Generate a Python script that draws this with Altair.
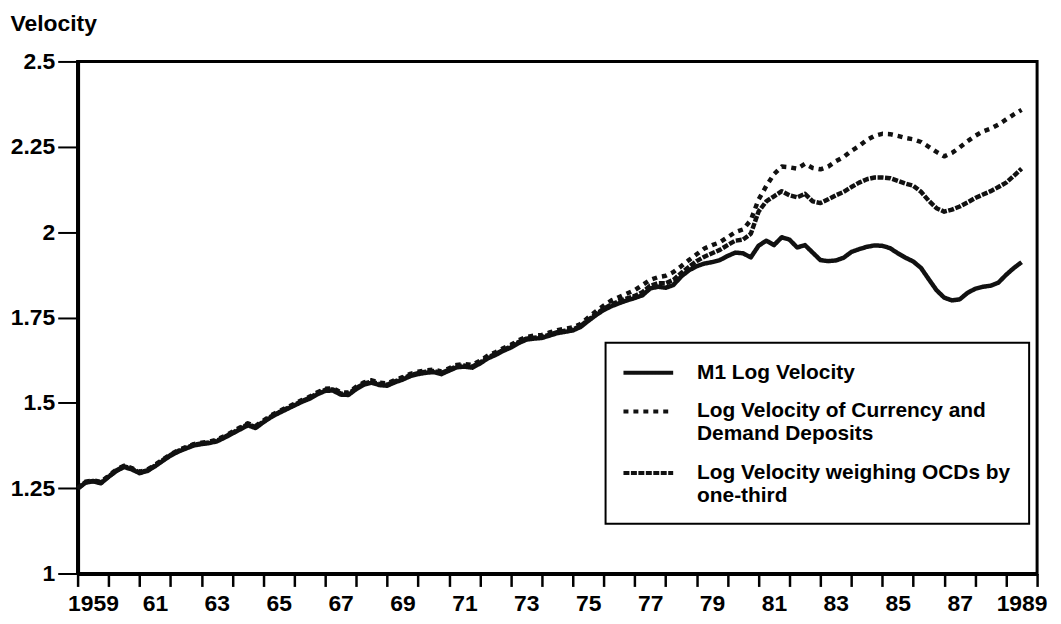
import altair as alt
import pandas as pd

# Quarterly observations, 1959Q1 .. 1989Q3
first_year = 1959
per_year = 4

m1_log_velocity = [
    1.248, 1.266, 1.270, 1.264,
    1.283, 1.300, 1.312, 1.305,
    1.294, 1.300, 1.314, 1.330,
    1.345, 1.357, 1.366, 1.375,
    1.379, 1.382, 1.387, 1.398,
    1.410, 1.422, 1.434, 1.426,
    1.443, 1.458, 1.470, 1.481,
    1.492, 1.503, 1.512, 1.525,
    1.535, 1.536, 1.524, 1.523,
    1.540, 1.553, 1.559, 1.552,
    1.550, 1.560, 1.568, 1.578,
    1.584, 1.588, 1.590, 1.584,
    1.594, 1.604, 1.606, 1.603,
    1.615, 1.630, 1.640, 1.652,
    1.662, 1.675, 1.685, 1.688,
    1.690, 1.697, 1.704, 1.708,
    1.712, 1.722, 1.740, 1.757,
    1.772, 1.783, 1.792, 1.800,
    1.807, 1.815, 1.835, 1.840,
    1.837, 1.845, 1.870, 1.888,
    1.900, 1.908, 1.912, 1.918,
    1.930, 1.940, 1.938, 1.926,
    1.960, 1.975, 1.962, 1.985,
    1.978, 1.955, 1.962, 1.940,
    1.918, 1.915, 1.917, 1.925,
    1.942, 1.950, 1.957, 1.961,
    1.960, 1.953, 1.938, 1.925,
    1.914, 1.895, 1.862, 1.830,
    1.808, 1.800, 1.803, 1.822,
    1.834, 1.840, 1.843, 1.852,
    1.875, 1.895, 1.912,
]

currency_dd_velocity = [
    1.250, 1.269, 1.273, 1.268,
    1.286, 1.304, 1.316, 1.309,
    1.298, 1.304, 1.318, 1.334,
    1.349, 1.361, 1.370, 1.379,
    1.383, 1.386, 1.392, 1.403,
    1.415, 1.428, 1.440, 1.432,
    1.448, 1.463, 1.475, 1.486,
    1.497, 1.508, 1.518, 1.531,
    1.541, 1.543, 1.531, 1.530,
    1.547, 1.560, 1.566, 1.559,
    1.557, 1.567, 1.575, 1.585,
    1.591, 1.595, 1.597, 1.592,
    1.601, 1.611, 1.613, 1.611,
    1.623, 1.638, 1.648, 1.660,
    1.670, 1.683, 1.693, 1.697,
    1.699, 1.706, 1.713, 1.717,
    1.721, 1.731, 1.750, 1.768,
    1.785, 1.800, 1.810, 1.820,
    1.830, 1.845, 1.860, 1.868,
    1.872, 1.883, 1.900, 1.918,
    1.935, 1.952, 1.962, 1.970,
    1.985, 2.000, 2.008, 2.035,
    2.095, 2.135, 2.170, 2.192,
    2.190, 2.186, 2.200, 2.188,
    2.184, 2.192, 2.208, 2.220,
    2.238, 2.252, 2.270, 2.282,
    2.288, 2.287, 2.282, 2.276,
    2.272, 2.264, 2.250, 2.235,
    2.222, 2.232, 2.248, 2.266,
    2.282, 2.295, 2.303, 2.315,
    2.330, 2.345, 2.358,
]

ocd_weighted_velocity = [
    1.249, 1.267, 1.271, 1.266,
    1.284, 1.302, 1.314, 1.307,
    1.296, 1.302, 1.316, 1.332,
    1.347, 1.359, 1.368, 1.377,
    1.381, 1.384, 1.389, 1.400,
    1.412, 1.425, 1.437, 1.429,
    1.445, 1.460, 1.472, 1.483,
    1.494, 1.505, 1.515, 1.528,
    1.538, 1.539, 1.527, 1.526,
    1.543, 1.556, 1.562, 1.555,
    1.553, 1.563, 1.571, 1.581,
    1.587, 1.591, 1.593, 1.587,
    1.597, 1.607, 1.609, 1.606,
    1.618, 1.633, 1.643, 1.655,
    1.665, 1.678, 1.688, 1.691,
    1.693, 1.700, 1.707, 1.711,
    1.715, 1.725, 1.743, 1.760,
    1.776, 1.788, 1.798, 1.806,
    1.813, 1.824, 1.843, 1.850,
    1.850, 1.860, 1.880, 1.898,
    1.915, 1.928, 1.938, 1.948,
    1.962, 1.975, 1.978, 1.995,
    2.060, 2.090, 2.105, 2.120,
    2.108, 2.102, 2.112, 2.090,
    2.085, 2.096, 2.108, 2.118,
    2.132, 2.145, 2.155, 2.160,
    2.160, 2.158, 2.150, 2.142,
    2.136, 2.118, 2.092, 2.070,
    2.060, 2.066, 2.075, 2.087,
    2.100, 2.110, 2.120, 2.132,
    2.145, 2.165, 2.186,
]

series_names = [
    "M1 Log Velocity",
    "Log Velocity of Currency and\nDemand Deposits",
    "Log Velocity weighing OCDs by\none-third",
]
y_ticks = [1, 1.25, 1.5, 1.75, 2, 2.25, 2.5]
x_tick_years = list(range(1959, 1991))

rows = []
for name, vals in zip(series_names, [m1_log_velocity, currency_dd_velocity, ocd_weighted_velocity]):
    for i, v in enumerate(vals):
        rows.append({"year": first_year + i / per_year, "value": v, "series": name})
df = pd.DataFrame(rows)

FONT = "Liberation Sans"

x_label_expr = (
    "datum.value == 1959 || datum.value == 1989 ? '' + datum.value : "
    "(datum.value % 2 == 1 && datum.value < 1990 ? substring('' + datum.value, 2) : '')"
)

chart = alt.Chart(df).mark_line(
    strokeWidth=4.5, color="#111111", strokeCap="butt", strokeJoin="round"
).encode(
    x=alt.X(
        "year:Q",
        scale=alt.Scale(domain=[1959, 1990], nice=False, zero=False),
        axis=alt.Axis(
            values=x_tick_years,
            labelExpr=x_label_expr,
            labelOffset=15.5,
            labelFlush=False,
            labelOverlap=False,
            tickSize=13,
            tickWidth=2.5,
            labelPadding=6,
            domainWidth=4,
            grid=False,
            title=None,
        ),
    ),
    y=alt.Y(
        "value:Q",
        scale=alt.Scale(domain=[1, 2.5], nice=False, zero=False),
        axis=alt.Axis(
            values=y_ticks,
            labelExpr="'' + datum.value",
            tickSize=20,
            tickWidth=2,
            labelPadding=3,
            domainWidth=4,
            grid=False,
            title="Velocity",
            titleAngle=0,
            titleX=-68,
            titleY=-31,
            titleAlign="left",
            titleBaseline="alphabetic",
            titleFont=FONT,
            titleFontSize=23,
            titleFontWeight="bold",
        ),
    ),
    strokeDash=alt.StrokeDash(
        "series:N",
        scale=alt.Scale(domain=series_names, range=[[1, 0], [5, 5], [6, 1.5]]),
        legend=alt.Legend(
            title=None,
            orient="none",
            legendX=531,
            legendY=283,
            padding=18,
            strokeColor="black",
            fillColor="white",
            symbolType="M-2.5,0H2.5",
            symbolSize=400,
            symbolOffset=13,
            symbolStrokeWidth=4,
            symbolStrokeColor="#111111",
            labelFont=FONT,
            labelFontSize=21,
            labelFontWeight="bold",
            labelColor="black",
            labelLimit=500,
            labelOffset=37,
            rowPadding=17,
            labelExpr="split(datum.label, '\\n')",
        ),
    ),
).properties(
    width=965,
    height=515,
    autosize=alt.AutoSizeParams(type="none"),
    padding={"left": 70, "top": 52, "right": 16, "bottom": 41},
).configure_view(
    stroke="black", strokeWidth=3
).configure_axis(
    domainColor="black",
    tickColor="black",
    labelColor="black",
    titleColor="black",
    labelFont=FONT,
    labelFontSize=23,
    labelFontWeight="bold",
).configure_legend(
    strokeWidth=2
)

chart.save("out.html", embed_options={"renderer": "svg", "actions": False})
